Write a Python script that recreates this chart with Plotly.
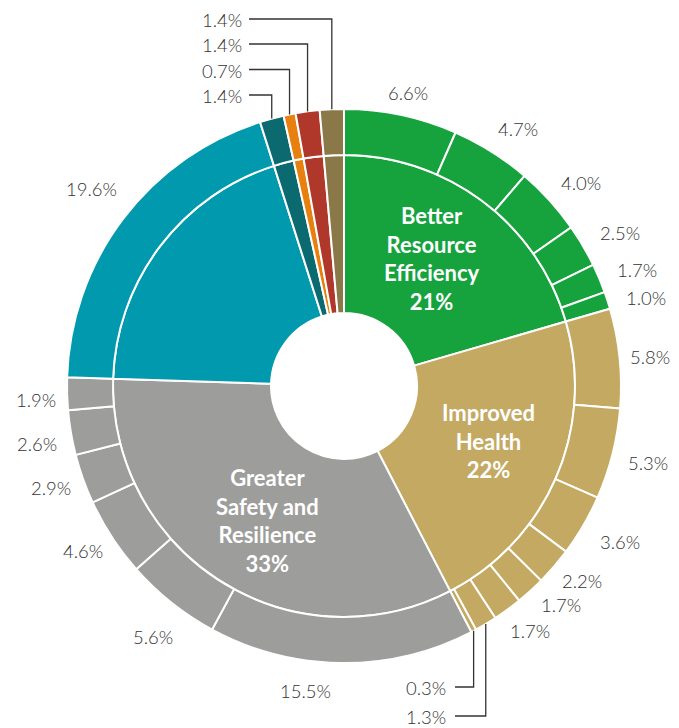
import math
import plotly.graph_objects as go

# ---------------- data ----------------
efficiency_values = [6.6, 4.7, 4.0, 2.5, 1.7, 1.0]
health_values = [5.8, 5.3, 3.6, 2.2, 1.7, 1.7, 1.3, 0.3]
safety_values = [15.5, 5.6, 4.6, 2.9, 2.6, 1.9]
blue_values = [19.6]
teal_values = [1.4]
orange_values = [0.7]
red_values = [1.4]
brown_values = [1.4]

category_names = ["Better Resource Efficiency", "Improved Health",
                  "Greater Safety and Resilience", "Category D",
                  "Category E", "Category F", "Category G", "Category H"]
category_label_lines = [["Better", "Resource", "Efficiency"],
                        ["Improved", "Health"],
                        ["Greater", "Safety and", "Resilience"],
                        [], [], [], [], []]
category_pct = [21, 22, 33, None, None, None, None, None]
groups = [efficiency_values, health_values, safety_values, blue_values,
          teal_values, orange_values, red_values, brown_values]

# ---------------- style ----------------
colors = ["#16a33e", "#c4a962", "#9d9d9b", "#0099ae",
          "#0b6a70", "#e8800f", "#b0382a", "#8a7848"]
PAGE_W, PAGE_H = 679, 728
OFF = 8                      # default body margin of the html page
W, H = PAGE_W - OFF, PAGE_H - OFF
CX, CY = 344, 386            # page pixels
R_OUT, R_IN, R_HOLE = 277, 231, 73
GAP = 15
TXT = "#333333"
FONT = "Lato"
LABEL_SIZE = 18.5
INNER_SIZE = 22

inner_values = [round(sum(g), 2) for g in groups]
outer_values = [v for g in groups for v in g]
outer_colors = [colors[i] for i, g in enumerate(groups) for _ in g]
outer_names = [f"{category_names[i]} {j + 1}" for i, g in enumerate(groups) for j in range(len(g))]
total = sum(outer_values)

# leader-line labels: outer index -> label y (page px)
leader_top = {21: 95, 22: 69.5, 23: 44, 24: 19}
leader_bottom = {13: 687, 12: 716}
# small nudges (px) for individual labels, by outer index
nudge = {1: (8, -4), 2: (6, -3), 3: (8, -2), 4: (6, 0), 5: (6, 4), 6: (-4, 0),
         7: (2, 2), 8: (7, 4), 9: (2, -2), 10: (8, -4), 11: (2, 2),
         14: (-36, 4), 15: (3, 15), 18: (0, 6), 19: (3, 5), 20: (0, -17)}


def paper(x, y):
    return (x - OFF) / W, 1 - (y - OFF) / H


def pt(r, theta):
    t = math.radians(theta)
    return CX + r * math.sin(t), CY - r * math.cos(t)


def dom(r):
    x0, y1 = paper(CX - r, CY - r)
    x1, y0 = paper(CX + r, CY + r)
    return dict(x=[x0, x1], y=[y0, y1])


fig = go.Figure()
fig.add_trace(go.Pie(
    values=inner_values, labels=category_names, sort=False, direction="clockwise",
    rotation=0, hole=R_HOLE / R_IN, domain=dom(R_IN), textinfo="none",
    marker=dict(colors=colors, line=dict(color="white", width=2)), showlegend=False))
fig.add_trace(go.Pie(
    values=outer_values, labels=outer_names, sort=False, direction="clockwise",
    rotation=0, hole=R_IN / R_OUT, domain=dom(R_OUT), textinfo="none",
    marker=dict(colors=outer_colors, line=dict(color="white", width=2)), showlegend=False))

annotations = []
shapes = []

# outer labels
cum = 0.0
for i, v in enumerate(outer_values):
    theta = (cum + v / 2) / total * 360
    cum += v
    text = f"{v:.1f}%"
    if i in leader_top or i in leader_bottom:
        x0, y0 = pt(R_OUT, theta)
        if i in leader_top:
            ly = leader_top[i]
            lx_line, lx_text = 249, 244
        else:
            ly = leader_bottom[i]
            lx_line, lx_text = 455, 448
        p0 = paper(x0, y0)
        p1 = paper(x0, ly)
        p2 = paper(lx_line, ly)
        shapes.append(dict(type="path", xref="paper", yref="paper",
                           path=f"M {p0[0]},{p0[1]} L {p1[0]},{p1[1]} L {p2[0]},{p2[1]}",
                           line=dict(color="#333333", width=1.3)))
        ax, ay = paper(lx_text, ly + 1)
        annotations.append(dict(x=ax, y=ay, xref="paper", yref="paper", text=text,
                                showarrow=False, xanchor="right", yanchor="middle",
                                font=dict(family=FONT, size=LABEL_SIZE, color=TXT, weight=300)))
        continue
    px, py = pt(R_OUT + GAP, theta)
    w = 9.6 * len(text)
    h = 16
    s, c = math.sin(math.radians(theta)), math.cos(math.radians(theta))
    cx, cy = px + s * w / 2, py - c * h / 2
    dx, dy = nudge.get(i, (0, 0))
    ax, ay = paper(cx + dx, cy + dy + 1)
    annotations.append(dict(x=ax, y=ay, xref="paper", yref="paper", text=text,
                            showarrow=False, xanchor="center", yanchor="middle",
                            font=dict(family=FONT, size=LABEL_SIZE, color=TXT, weight=300)))

# inner labels
cum = 0.0
for i, v in enumerate(inner_values):
    theta = (cum + v / 2) / total * 360
    cum += v
    if category_pct[i] is None:
        continue
    x, y = pt(155, theta - 2.5)
    ax, ay = paper(x, y)
    text = "<br>".join(category_label_lines[i] + [f"{category_pct[i]}%"])
    annotations.append(dict(x=ax, y=ay, xref="paper", yref="paper", text=text,
                            showarrow=False, xanchor="center", yanchor="middle",
                            font=dict(family=FONT, size=INNER_SIZE, color="white", weight="bold")))

fig.update_layout(width=W, height=H, margin=dict(l=0, r=0, t=0, b=0),
                  paper_bgcolor="white", plot_bgcolor="white",
                  annotations=annotations, shapes=shapes, showlegend=False)
fig.write_html("out.html")
